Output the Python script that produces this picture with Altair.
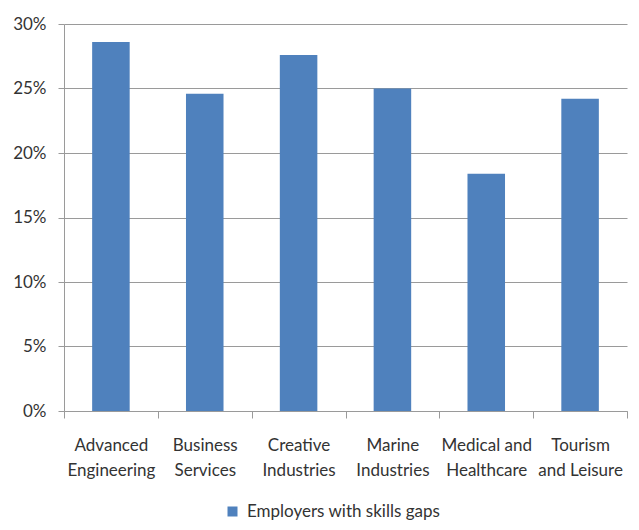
import altair as alt
import pandas as pd

categories = [
    "Advanced\nEngineering",
    "Business\nServices",
    "Creative\nIndustries",
    "Marine\nIndustries",
    "Medical and\nHealthcare",
    "Tourism\nand Leisure",
]
values = [0.286, 0.246, 0.276, 0.250, 0.184, 0.242]
series_name = "Employers with skills gaps"
y_ticks = [0, 0.05, 0.10, 0.15, 0.20, 0.25, 0.30]

df = pd.DataFrame({"category": categories, "value": values, "series": [series_name] * len(categories)})

FONT = "Lato"
TEXT = "#333333"
LINE = "#9a9a9a"

chart = (
    alt.Chart(df)
    .mark_bar(width={"band": 0.4})
    .encode(
        x=alt.X(
            "category:N",
            sort=categories,
            scale=alt.Scale(paddingInner=0, paddingOuter=0),
            axis=alt.Axis(
                title=None,
                labelAngle=0,
                tickBand="extent",
                labelExpr="split(datum.label, '\\n')",
                labelLineHeight=25,
                labelPadding=19,
                labelFont=FONT,
                labelFontSize=17,
                labelColor=TEXT,
                tickSize=7,
                tickColor=LINE,
                domainColor=LINE,
                grid=False,
            ),
        ),
        y=alt.Y(
            "value:Q",
            scale=alt.Scale(domain=[0, 0.3], nice=False),
            axis=alt.Axis(
                title=None,
                format=".0%",
                values=y_ticks,
                labelFont=FONT,
                labelFontSize=17,
                labelColor=TEXT,
                labelPadding=12,
                tickSize=6,
                tickColor=LINE,
                domainColor=LINE,
                gridColor=LINE,
                grid=True,
            ),
        ),
        color=alt.Color(
            "series:N",
            scale=alt.Scale(range=["#4f81bd"]),
            legend=alt.Legend(
                title=None,
                orient="none",
                legendX=160,
                legendY=479,
                symbolType="square",
                symbolSize=100,
                symbolStrokeWidth=0,
                labelFont=FONT,
                labelFontSize=17,
                labelColor=TEXT,
                labelOffset=6,
                labelLimit=400,
                padding=0,
            ),
        ),
    )
    .properties(
        width=563,
        height=387,
        autosize=alt.AutoSizeParams(type="none"),
        padding={"left": 56, "top": 16, "right": 4, "bottom": 111},
    )
    .configure_view(stroke=None)
)

chart.save("out.html", embed_options={"renderer": "svg", "actions": False})
